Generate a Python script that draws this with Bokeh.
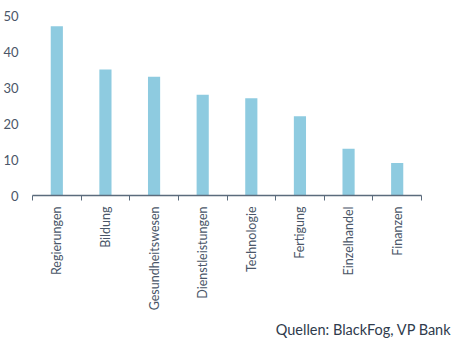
from bokeh.plotting import figure
from bokeh.models import ColumnDataSource, FixedTicker, Range1d, Title
from bokeh.embed import file_html
from bokeh.resources import INLINE

categories = ["Regierungen", "Bildung", "Gesundheitswesen", "Dienstleistungen",
              "Technologie", "Fertigung", "Einzelhandel", "Finanzen"]
values = [47, 35, 33, 28, 27, 22, 13, 9]
y_ticks = [0, 10, 20, 30, 40, 50]
source_text = "Quellen: BlackFog, VP Bank"

FONT = "Lato"
TEXT = "#4a5668"
AXIS = "#5b6b7c"
BAR = "#8ecbe0"

xs = [i + 0.5 for i in range(len(categories))]
src = ColumnDataSource(dict(x=xs, top=values, cat=categories))

p = figure(width=462, height=346, output_backend="svg", toolbar_location=None,
           x_range=Range1d(0, len(categories)), y_range=Range1d(0, 50),
           min_border_left=30, min_border_right=41, min_border_top=15,
           min_border_bottom=151)
p.outline_line_color = None
p.background_fill_color = "white"
p.border_fill_color = "white"
p.xgrid.visible = False
p.ygrid.visible = False

p.vbar(x="x", top="top", width=0.25, source=src, color=BAR, line_color=None)

# x axis
xa = p.xaxis[0]
xa.ticker = FixedTicker(ticks=xs, minor_ticks=list(range(len(categories) + 1)))
xa.major_label_overrides = {x: c for x, c in zip(xs, categories)}
xa.major_tick_out = 0
xa.major_tick_in = 0
xa.minor_tick_out = 5
xa.minor_tick_in = 0
xa.minor_tick_line_color = AXIS
xa.axis_line_color = AXIS
xa.axis_line_width = 1.5
xa.major_label_orientation = 1.5707963
xa.major_label_standoff = 6
xa.major_label_text_font = FONT
xa.major_label_text_font_size = "12.5px"
xa.major_label_text_color = TEXT

# y axis
ya = p.yaxis[0]
ya.ticker = FixedTicker(ticks=y_ticks)
ya.axis_line_color = None
ya.major_tick_line_color = None
ya.minor_tick_line_color = None
ya.major_label_standoff = 8
ya.major_label_text_font = FONT
ya.major_label_text_font_size = "13px"
ya.major_label_text_color = TEXT

t = Title(text=source_text, align="right", text_font=FONT, text_font_size="14.5px",
          text_color="#2f3b4c", text_font_style="normal", offset=-30, standoff=10)
p.add_layout(t, "below")

open("out.html", "w").write(file_html(p, INLINE))
